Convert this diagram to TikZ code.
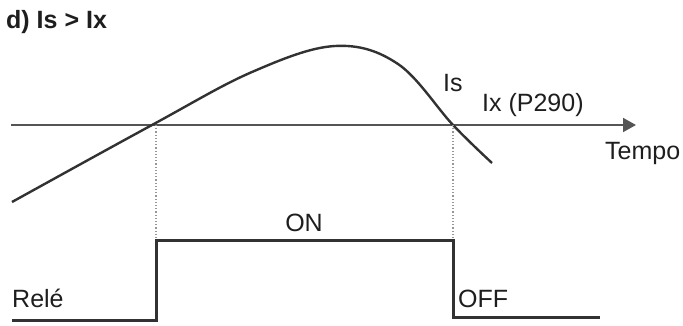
\documentclass[tikz,border=0pt]{standalone}
\usepackage{fontspec}
\setmainfont{Liberation Sans}
\usetikzlibrary{arrows.meta}
\definecolor{linecol}{RGB}{50,50,50}
\definecolor{axiscol}{RGB}{85,85,85}
\definecolor{dotcol}{RGB}{150,150,150}
\definecolor{textcol}{RGB}{30,30,30}

\begin{document}
\begin{tikzpicture}[
                        x=1pt, y=-1pt,
                        font=\fontsize{25}{30}\selectfont,
                        >={Triangle[length=13pt, width=14pt]},
                        lbl/.style={inner sep=0pt, text=textcol},
                        axis/.style={->, line width=2pt, draw=axiscol, fill=axiscol},
                        signal/.style={line width=2.4pt, draw=linecol},
                        relay/.style={line width=3pt, draw=linecol},
                        guide/.style={dotted, line width=1.2pt, draw=dotcol}
                    ]
                    \useasboundingbox (0,0) rectangle (683,326);

                    % ===== Title =====
                    \node[lbl, anchor=base west, font=\fontsize{25}{30}\selectfont\bfseries] (title) at (6,29) {d) Is > Ix};

                    % ===== Time axis =====
                    \coordinate (origin) at (11,125);
                    \coordinate (tmax) at (636,125);
                    \draw[axis] (origin) -- (tmax);
                    \node[lbl, anchor=base west] (tempo) at (605,160) {Tempo};

                    % ===== Is curve =====
                    \draw[signal] plot[smooth, tension=0.6] coordinates {
                            (12,202) (152,125) (252,72) (335,46) (398,64) (453,125) (492,163)
                        };
                    \node[lbl, anchor=base west] (is) at (443,92) {Is};
                    \node[lbl, anchor=base west] (ix) at (482,112) {Ix (P290)};

                    % ===== Relay output =====
                    \coordinate (relA) at (12,320);
                    \coordinate (relB) at (156,320);
                    \coordinate (relC) at (156,240);
                    \coordinate (relD) at (453,240);
                    \coordinate (relE) at (453,317);
                    \coordinate (relF) at (600,317);
                    \draw[relay] (relA) -- (relB) -- (relC) -- (relD) -- (relE) -- (relF);

                    \node[lbl, anchor=base west] (rele) at (12,307) {Relé};
                    \node[lbl, anchor=base] (on) at (304,231) {ON};
                    \node[lbl, anchor=base west] (off) at (458,307) {OFF};

                    % ===== Crossing guides =====
                    \coordinate (cross1) at (156,125);
                    \coordinate (cross2) at (453,125);
                    \draw[guide] (cross1) -- (relC);
                    \draw[guide] (cross2) -- (relD);

                \end{tikzpicture}
\end{document}
